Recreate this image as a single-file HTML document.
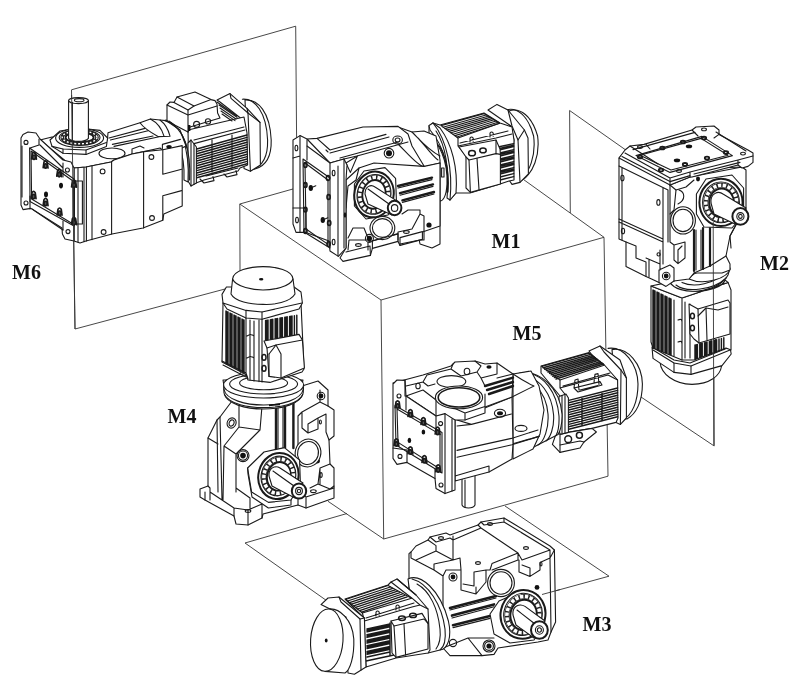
<!DOCTYPE html>
<html><head><meta charset="utf-8"><title>Mounting positions M1-M6</title>
<style>
html,body{margin:0;padding:0;background:#fff;}
svg{display:block}
.l{fill:none;stroke:#333;stroke-width:0.9}
.w{fill:#fff;stroke:#1a1a1a;stroke-width:1.1;stroke-linejoin:round}
.n{fill:none;stroke:#1a1a1a;stroke-width:1.1;stroke-linejoin:round;stroke-linecap:round}
.t{fill:none;stroke:#222;stroke-width:0.6}
.k{fill:#111;stroke:none}
.f{fill:#fff;stroke:none}
svg *{vector-effect:non-scaling-stroke}
.g{fill:#fff;stroke:#222;stroke-width:0.9}
.b{fill:none;stroke:#111;stroke-width:1.6}
text{font-family:"Liberation Serif","DejaVu Serif",serif;font-weight:bold;font-size:20px;fill:#111}
</style></head><body>
<svg width="800" height="686" viewBox="0 0 800 686">
<rect width="800" height="686" fill="#fff"/>
<g style="filter:blur(0.45px)">
<!-- base -->
<g class="l">
<!-- M6 plane -->
<polyline points="75,329 71.5,89.8 295.7,26.2 297,190"/>
<line x1="75" y1="329" x2="240" y2="285"/>
<!-- cube -->
<polyline points="240.5,420 239.8,204 381,300 604,237.3 608,476.2 383.7,539 381,300"/>
<line x1="239.8" y1="204" x2="300" y2="187"/>
<line x1="604" y1="237.3" x2="520" y2="177"/>
<line x1="383.7" y1="539" x2="328" y2="501.3"/>
<!-- M2 plane -->
<polyline points="570.3,213 569.6,110.5 640,160"/>
<polyline points="641,397 714.2,446 713.5,250"/>
<!-- M3 plane -->
<polyline points="347,513.5 245,543 330,603"/>
<polyline points="505,506 609,576.2 556,590.7"/>
</g>

<!-- m6 -->
<!-- M6 -->
<!-- view C: region [100,80,260,217] x5 : adapter + motor -->
<g transform="translate(100,80) scale(0.2)">
<!-- end cap -->
<path class="w" d="M725,100 C790,95 850,160 856,300 C858,380 830,430 775,445 L740,440 Z"/>
<path class="n" d="M712,96 C775,92 832,160 838,300 C840,380 812,432 760,448"/>
<!-- fan cover -->
<polygon class="w" points="585,100 650,68 735,142 800,212 802,425 752,456 720,442 715,200 600,110"/>
<polyline class="n" points="650,68 655,92 740,165 735,142"/>
<line class="n" x1="740" y1="165" x2="752" y2="456"/>
<line class="n" x1="800" y1="212" x2="740" y2="165"/>
<!-- motor body -->
<polygon class="w" points="440,250 720,185 735,265 738,425 700,440 690,455 520,500 480,515 445,500"/>
<!-- fins -->
<g class="n">
<path style="stroke-width:1.45" d="M484,345 L735,275 M484,357 L735,287 M484,369 L735,299 M484,381 L735,311 M484,393 L735,323 M484,405 L735,335 M484,417 L735,347 M484,429 L735,359 M484,441 L735,371 M484,453 L735,383 M484,465 L735,395 M484,477 L735,407 M484,489 L735,419"/>
<path d="M470,300 L720,235 M470,318 L725,250 M560,300 l0,160 M660,275 l0,160"/>
</g>
<!-- feet -->
<path class="n" d="M500,495 l20,20 l50,-12 l-5,-20 M620,470 l15,15 l50,-12 l-5,-20 M530,480 l160,-40"/>
<!-- front flange of motor -->
<polygon class="w" points="440,315 455,300 482,335 482,515 455,530 440,505"/>
<line class="n" x1="455" y1="300" x2="455" y2="530"/>
<line class="n" x1="470" y1="320" x2="470" y2="522"/>
<!-- terminal box -->
<polygon class="w" points="335,125 350,110 370,112 385,85 475,60 555,98 575,103 585,120 588,165 600,190 450,235 440,260 335,205"/>
<polyline class="n" points="370,112 440,150 470,130 555,98"/>
<polyline class="n" points="385,85 470,130"/>
<polyline class="n" points="440,150 440,260"/>
<polyline class="n" points="335,125 440,175 585,130"/>
<circle class="n" cx="483" cy="222" r="15"/>
<circle class="n" cx="540" cy="207" r="13"/>
<path class="k" d="M440,225 l12,0 l0,30 l-12,0 z"/>
<g class="n"><path d="M585,110 l100,70 M595,125 l90,62 M600,140 l80,55 M605,155 l70,48 M610,170 l50,35"/></g>
<!-- adapter flange arcs -->
<path class="w" d="M330,200 C400,230 450,330 440,510 L420,500 C425,360 390,280 300,230 Z"/>
<path class="n" d="M345,205 C420,250 455,350 448,500"/>
</g>
<!-- view B: region [20,80,180,217] x5 : top of gearbox -->
<g transform="translate(20,80) scale(0.2)">
<!-- top face + neck -->
<polygon class="w" points="100,300 160,285 437,300 440,264 600,214 652,195 700,200 730,203 800,250 830,330 800,345 712,350 700,340 620,358 560,370 470,400 455,410 330,435 270,440"/>
<g class="n">
<path d="M445,290 L625,242 M452,300 L640,254 M462,322 L665,280 M470,332 L690,285"/>
<path d="M600,214 C615,235 640,255 690,283 L750,281 C740,240 720,215 700,200 M652,195 C690,215 710,245 720,281 M725,203 C770,215 815,260 835,340"/>
<path d="M560,370 l0,-25 l40,-15 l20,10 M712,342 l0,-20 l90,-25"/>
</g>
<ellipse class="k" cx="750" cy="350" rx="16" ry="10"/>
<ellipse class="w" cx="460" cy="367" rx="65" ry="27"/>
<!-- boss -->
<polygon class="w" points="150,300 200,255 290,240 400,252 438,290 432,332 330,372 215,366 160,332"/>
<polyline class="n" points="160,332 215,345 330,350 432,312"/>
<line class="n" x1="215" y1="345" x2="215" y2="366"/><line class="n" x1="330" y1="350" x2="330" y2="372"/>
<ellipse class="w" cx="298" cy="290" rx="120" ry="47"/>
<ellipse class="n" cx="298" cy="288" rx="102" ry="39"/>
<ellipse class="n" cx="298" cy="287" rx="70" ry="25" style="stroke-width:1.8"/>
<ellipse cx="298" cy="287" rx="87" ry="32" style="fill:none;stroke:#222;stroke-width:3.6"/><ellipse cx="298" cy="287" rx="87" ry="32" style="fill:none;stroke:#fff;stroke-width:1.4;stroke-dasharray:2 1.8"/>
<!-- shaft -->
<path class="w" d="M243,103 L243,292 C260,312 325,312 342,292 L342,103 Z"/>
<ellipse class="w" cx="292.5" cy="103" rx="49.5" ry="15"/>
<ellipse class="n" cx="296" cy="101" rx="24" ry="8"/>
<line class="n" x1="262" y1="112" x2="262" y2="300"/>
</g>
<!-- view A: region [20,130,180,267] x5 -->
<g transform="translate(20,130) scale(0.2)">
<!-- side body -->
<polygon class="w" points="270,190 330,185 455,160 470,150 560,120 620,108 714,99 811,78 811,380 719,420 714,451 615,490 460,520 330,555 300,565 270,555"/>
<path class="n" d="M714,99 L714,221 L808,196 M714,451 L714,329 L808,303"/>
<ellipse class="k" cx="745" cy="84" rx="14" ry="9"/>
<line class="n" x1="290" y1="190" x2="290" y2="560"/>
<line class="n" x1="320" y1="188" x2="320" y2="558"/>
<line class="n" x1="332" y1="186" x2="332" y2="555"/>
<line class="n" x1="360" y1="180" x2="360" y2="548"/>
<line class="n" x1="458" y1="160" x2="458" y2="520"/>
<line class="n" x1="618" y1="110" x2="618" y2="490"/>
<circle class="n" cx="413" cy="207" r="12"/>
<circle class="n" cx="418" cy="510" r="12"/>
<circle class="n" cx="657" cy="135" r="12"/>
<circle class="n" cx="660" cy="440" r="12"/>
<rect class="n" x="272" y="255" width="40" height="215"/>
<!-- end face -->
<polygon class="w" points="5,40 15,22 40,10 80,15 100,45 215,150 255,160 270,190 270,555 225,545 212,520 210,490 55,392 15,398 5,375"/>
<polygon class="n" points="55,105 265,255 265,470 58,345"/>
<polygon class="n" points="48,90 270,245 270,480 50,358"/>
<line class="n" x1="10" y1="80" x2="10" y2="335"/>
<path class="n" d="M100,75 L215,190 M95,45 L95,75 L50,90 M215,165 L215,235 M50,330 L50,395 M215,455 L215,500"/>
<line class="n" x1="60" y1="395" x2="215" y2="500"/>
<circle class="n" cx="30" cy="62" r="10"/>
<circle class="n" cx="30" cy="365" r="10"/>
<circle class="n" cx="237" cy="200" r="10"/>
<circle class="n" cx="240" cy="508" r="10"/>
<ellipse class="k" cx="205" cy="278" rx="10" ry="14"/>
<ellipse class="k" cx="130" cy="322" rx="10" ry="14"/>
<g class="n" style="stroke-width:1.7"><path d="M58,144 l4,-28 q8,-12 16,0 l4,30"/><ellipse cx="70" cy="136" rx="8" ry="11" style="fill:#555"/><path d="M116,188 l4,-28 q8,-12 16,0 l4,30"/><ellipse cx="128" cy="180" rx="8" ry="11" style="fill:#555"/><path d="M184,231 l4,-28 q8,-12 16,0 l4,30"/><ellipse cx="196" cy="223" rx="8" ry="11" style="fill:#555"/><path d="M258,284 l4,-28 q8,-12 16,0 l4,30"/><ellipse cx="270" cy="276" rx="8" ry="11" style="fill:#555"/></g>
<g class="n" style="stroke-width:1.7"><path d="M56,341 l4,-28 q8,-12 16,0 l4,30"/><ellipse cx="68" cy="333" rx="8" ry="11" style="fill:#555"/><path d="M116,376 l4,-28 q8,-12 16,0 l4,30"/><ellipse cx="128" cy="368" rx="8" ry="11" style="fill:#555"/><path d="M186,424 l4,-28 q8,-12 16,0 l4,30"/><ellipse cx="198" cy="416" rx="8" ry="11" style="fill:#555"/><path d="M258,471 l4,-28 q8,-12 16,0 l4,30"/><ellipse cx="270" cy="463" rx="8" ry="11" style="fill:#555"/></g>
</g>
<line class="l" x1="71.6" y1="95" x2="75" y2="329"/>

<!-- m1 -->
<!-- M1 -->
<!-- view M1b: region [400,80,560,217] x5 : motor -->
<g transform="translate(400,80) scale(0.2)">
<!-- end cap -->
<path class="w" d="M545,155 C600,135 660,180 688,280 C700,370 670,470 600,508 L560,500 Z"/>
<path class="n" d="M530,150 C585,132 642,180 668,280 C680,370 652,470 585,512"/>
<!-- fan cover -->
<polygon class="w" points="440,150 485,122 540,150 622,250 640,290 642,470 600,512 560,522 545,500 570,300 555,230"/>
<polyline class="n" points="540,150 560,230 590,300 600,512"/>
<polyline class="n" points="622,250 590,300"/>
<!-- body -->
<polygon class="w" points="200,225 420,165 500,215 560,235 570,300 570,500 545,505 500,520 350,565 280,565 250,600 145,300 145,228 165,215"/>
<!-- top fins -->
<polygon class="n" points="205,228 420,168 498,216 290,290"/>
<g class="n"><path style="stroke-width:1.15" d="M215,236 L430,175 M225,243 L440,181 M235,250 L450,187 M245,257 L460,193 M255,264 L470,199 M265,271 L480,205 M275,278 L490,211 M285,285 L498,216"/>
<path d="M290,290 L290,330 L480,290 L560,270 M290,330 L330,380 M300,315 L540,255 M350,310 l0,-20 q8,-10 16,0 l0,16 M450,285 l0,-20 q8,-10 16,0 l0,16"/>
</g>
<!-- side fins -->
<g class="n"><path style="stroke-width:1.45" d="M490,335 L568,318 M495,350 L568,333 M500,365 L568,348 M500,380 L568,363 M500,395 L568,378 M500,410 L568,393 M500,425 L568,408 M500,440 L568,423 M500,455 L568,438 M500,470 L568,453 M500,485 L568,468 M500,500 L568,483 M498,342 L568,326 M500,372 L568,356 M500,402 L568,386 M500,432 L568,416 M500,462 L568,446"/></g>
<!-- terminal box -->
<polygon class="w" points="295,335 480,300 500,345 502,372 502,520 352,562 330,540 330,385"/>
<polyline class="n" points="330,385 345,400 480,368 502,372"/>
<polyline class="n" points="345,400 352,562"/>
<polyline class="n" points="385,392 395,548"/>
<polyline class="n" points="480,368 480,300"/>
<ellipse class="n" cx="360" cy="366" rx="17" ry="13" style="stroke-width:1.5"/>
<ellipse class="n" cx="415" cy="352" rx="16" ry="12" style="stroke-width:1.5"/>
<!-- motor flange -->
<path class="w" d="M145,228 L165,215 L200,240 C260,320 290,440 280,565 L250,600 L235,590 C250,450 220,330 150,250 Z"/>
<path class="n" d="M165,215 C235,300 265,450 250,600 M180,255 C230,330 245,450 235,560"/>
<!-- round adapter flange -->
<path class="w" d="M150,300 C190,300 240,400 235,520 C232,580 215,610 195,605 C170,600 150,560 150,500 Z"/>
<path class="n" d="M165,300 C215,330 250,430 240,560"/>
<rect class="n" x="208" y="440" width="12" height="45"/>
</g>
<!-- view M1a: region [280,120,440,257] x5 : gearbox -->
<g transform="translate(280,120) scale(0.2)">
<!-- neck to motor -->
<polygon class="w" points="590,35 660,60 720,55 780,80 800,200 800,620 760,640 700,620 600,120"/>
<!-- top face -->
<polygon class="w" points="135,95 185,92 415,35 590,32 640,70 660,130 720,230 330,300 250,215"/>
<g class="n"><path d="M185,92 L250,150 L530,72 M230,150 L240,160 M250,165 L545,85 M300,190 L590,110 M250,215 L320,195 L385,180 L640,110"/>
<path d="M590,120 C640,170 690,230 720,235 L800,215 M690,90 C720,120 760,180 790,200 M660,60 C700,100 740,150 800,180"/></g>
<ellipse class="n" cx="588" cy="100" rx="24" ry="20"/><ellipse class="n" cx="588" cy="100" rx="12" ry="10"/>
<!-- front face -->
<polygon class="w" points="330,300 395,240 470,215 720,232 800,215 800,530 712,560 712,597 600,627 590,607 462,642 452,677 315,707 300,690 330,640"/>
<path class="n" d="M330,660 L450,630 L452,677 M462,642 L462,605 L590,568 L590,607 M600,627 L600,588 L712,558"/>
<polyline class="n" points="395,240 380,300 340,330 330,440"/>
<!-- thick ribs -->
<g class="n" style="stroke-width:2.4"><path d="M590,330 L760,288 M600,366 L765,322 M612,402 L770,360"/></g>
<g class="n"><path d="M590,340 L760,298 M600,376 L765,332 M612,412 L770,370"/></g>
<!-- lower plug -->
<ellipse class="w" cx="512" cy="540" rx="62" ry="58"/>
<ellipse class="n" cx="512" cy="540" rx="50" ry="47"/>
<!-- feet -->
<g class="n"><path d="M340,590 L365,540 L420,540 L440,590 M340,650 L345,600 L440,600 M590,600 L590,560 L660,545 L700,470 L700,450 L640,450 L610,470 M700,470 L720,480 L720,600 M600,620 L700,600 L720,600 M440,650 L440,610 L590,570"/>
<ellipse cx="392" cy="625" rx="14" ry="7"/><ellipse cx="632" cy="560" rx="14" ry="7"/></g>
<circle class="k" cx="545" cy="166" r="15"/><circle class="n" cx="545" cy="166" r="24"/>
<circle class="k" cx="745" cy="525" r="13"/>
<circle class="k" cx="447" cy="592" r="13"/><circle class="n" cx="447" cy="592" r="20"/>
<!-- hex boss & bearing -->
<polygon class="w" points="372,320 420,255 525,238 578,292 582,400 540,475 430,495 372,430"/>
<ellipse class="w" cx="470" cy="372" rx="98" ry="115" transform="rotate(12 470 372)" style="stroke-width:2"/>
<ellipse class="n" cx="470" cy="372" rx="84" ry="100" transform="rotate(12 470 372)"/>
<ellipse class="n" cx="470" cy="372" rx="58" ry="72" transform="rotate(12 470 372)" style="stroke-width:2"/>
<ellipse cx="470" cy="372" rx="71" ry="86" transform="rotate(12 470 372)" style="fill:none;stroke:#222;stroke-width:4.8"/><ellipse cx="470" cy="372" rx="71" ry="86" transform="rotate(12 470 372)" style="fill:none;stroke:#fff;stroke-width:3.5;stroke-dasharray:3.4 1.5"/>
<!-- shaft -->
<path class="w" d="M425,370 C425,330 455,320 475,335 L590,408 L560,475 L440,420 Z"/>
<path class="n" d="M440,345 L545,420"/>
<ellipse class="w" cx="573" cy="440" rx="34" ry="36" style="stroke-width:2"/>
<ellipse class="n" cx="573" cy="440" rx="16" ry="17"/>
<!-- triangle rib -->
<polygon class="w" points="330,215 387,180 352,262"/>
<!-- end face -->
<polygon class="w" points="65,100 100,78 135,95 135,130 250,215 320,195 335,225 330,300 330,640 292,682 250,655 245,605 130,562 80,562 65,520"/>
<polygon class="n" points="115,195 250,290 250,640 120,560"/>
<polygon class="n" points="125,215 240,300 240,622 130,545"/>
<g class="n"><path d="M100,78 L100,560 M135,130 L135,200 M250,215 L250,290 M290,230 L290,680 M320,195 L320,640 M65,440 L130,440 L130,560 M100,180 L65,190"/>
<ellipse cx="82" cy="140" rx="7" ry="14"/><ellipse cx="85" cy="500" rx="7" ry="14"/><ellipse cx="268" cy="265" rx="7" ry="14"/><ellipse cx="268" cy="610" rx="7" ry="14"/></g>
<g class="n" style="stroke-width:1.6"><ellipse cx="127" cy="225" rx="8" ry="12"/><ellipse cx="127" cy="325" rx="8" ry="12"/><ellipse cx="127" cy="448" rx="8" ry="12"/><ellipse cx="127" cy="555" rx="8" ry="12"/><ellipse cx="240" cy="290" rx="8" ry="12"/><ellipse cx="243" cy="385" rx="8" ry="12"/><ellipse cx="246" cy="515" rx="8" ry="12"/><ellipse cx="243" cy="620" rx="8" ry="12"/></g>
<ellipse class="k" cx="154" cy="340" rx="11" ry="15"/><ellipse class="k" cx="214" cy="500" rx="11" ry="15"/><path class="n" d="M165,335 l14,-6 M225,495 l14,-6"/><ellipse class="k" cx="325" cy="475" rx="6" ry="14"/>
</g>

<!-- m2 -->
<!-- M2 -->
<!-- view M2c: region [610,290,770,427] x5 : motor lower -->
<g transform="translate(610,290) scale(0.2)">
<path class="w" d="M250,360 C255,420 320,470 410,472 C500,470 550,430 558,380 Z"/>
<polygon class="w" points="210,285 320,350 400,365 600,285 606,320 560,378 405,422 320,412 215,342"/>
<polyline class="n" points="215,300 320,365 405,380 600,300"/>
<line class="n" x1="320" y1="365" x2="320" y2="412"/><line class="n" x1="405" y1="380" x2="405" y2="422"/>
</g>
<!-- view M2b: region [610,230,770,367] x5 : motor body + gearbox lower -->
<g transform="translate(610,230) scale(0.2)">
<!-- motor body -->
<polygon class="w" points="205,280 360,340 590,262 605,300 605,600 580,590 420,650 360,650 215,590 205,560"/>
<!-- left fins -->
<g class="n"><path style="stroke-width:1.45" d="M215,300 L215,588 M225,305 L225,592 M235,310 L235,596 M245,315 L245,600 M255,320 L255,604 M265,325 L265,608 M275,330 L275,612 M285,335 L285,616 M295,340 L295,620 M305,345 L305,624 M220,302 L220,590 M240,312 L240,598 M260,322 L260,606 M280,332 L280,614 M300,342 L300,622"/>
<path d="M320,350 L320,630 M360,345 L360,650 M375,360 L375,640 M400,370 L400,640 M340,450 q20,-10 20,10 M340,560 q20,-10 20,10"/>
<!-- bottom fins -->
<path style="stroke-width:1.45" d="M425,575 L425,645 M437,572 L437,641 M449,569 L449,637 M461,566 L461,633 M473,563 L473,629 M485,560 L485,625 M497,557 L497,621 M509,554 L509,617 M521,551 L521,613 M533,548 L533,609 M545,545 L545,605 M557,542 L557,601 M569,539 L569,597 M431,573 L431,643 M455,567 L455,635 M479,561 L479,627 M503,555 L503,619 M527,549 L527,611"/>
</g>
<!-- terminal box -->
<polygon class="w" points="395,370 440,395 590,350 600,365 600,520 445,565 420,545 400,520"/>
<polyline class="n" points="440,395 445,565"/>
<polyline class="n" points="440,430 480,390 540,400 590,385"/>
<polyline class="n" points="480,390 485,550"/>
<ellipse class="n" cx="412" cy="430" rx="10" ry="14" style="stroke-width:1.5"/>
<ellipse class="n" cx="412" cy="490" rx="10" ry="14" style="stroke-width:1.5"/>
<!-- motor top flange / adapter rings -->
<path class="w" d="M205,280 L360,340 L590,262 L575,250 C560,300 420,330 330,280 L290,262 Z"/>
<path class="w" d="M300,262 C340,330 540,320 590,225 L600,190 L380,230 Z"/>
<path class="n" d="M330,275 C380,315 520,300 580,240 M360,262 C420,290 520,270 590,205"/>
<path class="w" d="M395,245 C420,200 560,170 600,195 C590,240 470,280 395,245 Z"/>
</g>
<!-- plane line through -->
<!-- view M2a: region [610,110,770,247] x5 : gearbox upper -->
<g transform="translate(610,110) scale(0.2)">
<!-- silhouette -->
<polygon class="w" points="45,240 75,205 300,300 660,285 680,300 680,520 630,575 600,630 590,680 580,730 600,770 600,800 560,815 420,815 395,845 320,855 280,882 245,862 180,832 80,782 80,660 45,645"/>
<!-- left face details -->
<g class="n"><path d="M45,280 L290,400 M60,290 L60,650 M45,545 L265,645 M45,560 L265,660 M265,390 L265,770 M290,400 L290,660 M300,375 L300,660 L320,675 L375,660 L375,740 L340,768 L320,750 L320,675 M340,768 L340,700 L360,680"/>
<path d="M80,660 L130,680 L130,740 L180,760 L180,832 M180,740 L250,770 L250,700 M250,770 L250,800 M195,750 L195,835 M245,800 L300,775 L320,790 L320,855 M245,800 L245,862 M580,730 L500,780 L420,815"/>
<ellipse cx="62" cy="340" rx="8" ry="14"/><ellipse cx="242" cy="462" rx="8" ry="14"/><ellipse cx="65" cy="605" rx="8" ry="14"/><circle cx="243" cy="722" r="8"/></g>
<circle class="k" cx="281" cy="830" r="12"/><circle class="n" cx="281" cy="830" r="19"/>
<!-- front face -->
<polyline class="n" points="300,375 400,335 660,285"/>
<polyline class="n" points="300,375 330,400 380,385 420,350"/>
<polyline class="n" points="330,400 320,500 300,520"/>
<path class="n" d="M345,400 C375,410 380,450 340,470"/>
<g class="n" style="stroke-width:2.2"><path d="M420,600 L420,805 M465,590 L465,795 M500,590 L500,780"/></g>
<g class="n"><path d="M430,600 L430,800 M455,600 L455,795"/></g>
<!-- plug -->
<ellipse class="w" cx="365" cy="552" rx="62" ry="68"/>
<ellipse class="n" cx="365" cy="552" rx="50" ry="56"/>
<!-- thick verticals -->
<!-- hex boss -->
<polygon class="w" points="432,420 480,345 610,325 668,390 668,520 610,590 470,585 432,520"/>
<ellipse class="w" cx="555" cy="462" rx="108" ry="118" style="stroke-width:2"/>
<ellipse class="n" cx="555" cy="462" rx="92" ry="102"/>
<ellipse class="n" cx="558" cy="464" rx="62" ry="72" style="stroke-width:2"/>
<ellipse cx="556" cy="463" rx="77" ry="87" style="fill:none;stroke:#222;stroke-width:4.8"/><ellipse cx="556" cy="463" rx="77" ry="87" style="fill:none;stroke:#fff;stroke-width:3.5;stroke-dasharray:3.4 1.5"/>
<!-- shaft -->
<path class="w" d="M505,465 C500,420 540,400 565,420 L680,490 L625,570 L520,520 Z"/>
<ellipse class="w" cx="652" cy="532" rx="40" ry="42" style="stroke-width:2"/>
<ellipse class="n" cx="652" cy="532" rx="18" ry="19"/><ellipse class="n" cx="652" cy="532" rx="9" ry="10"/>
<path class="n" d="M630,572 L600,630 L605,690"/>
<!-- top flange -->
<polygon class="w" points="45,240 75,200 100,180 170,172 410,100 430,85 520,80 545,100 545,122 690,200 715,215 715,262 690,282 660,290 640,275 410,335 400,335 300,375"/>
<polygon class="n" points="130,228 460,132 612,228 300,312"/>
<polygon class="n" points="150,226 455,142 590,226 305,300"/>
<g class="n"><path d="M75,215 L300,340 L400,310 L640,250 L715,230 M180,172 L200,195 M410,100 L440,130 M545,122 L520,140 M640,275 L640,250 M300,340 L300,375 M400,310 L400,335 M100,180 L240,270"/>
<ellipse cx="150" cy="185" rx="12" ry="7"/><ellipse cx="470" cy="97" rx="12" ry="7"/><ellipse cx="665" cy="218" rx="12" ry="7"/><ellipse cx="345" cy="305" rx="12" ry="7"/><ellipse cx="262" cy="190" rx="11" ry="7" style="stroke-width:1.8"/><ellipse cx="365" cy="160" rx="11" ry="7" style="stroke-width:1.8"/><ellipse cx="470" cy="140" rx="11" ry="7" style="stroke-width:1.8"/><ellipse cx="580" cy="213" rx="11" ry="7" style="stroke-width:1.8"/><ellipse cx="485" cy="240" rx="11" ry="7" style="stroke-width:1.8"/><ellipse cx="375" cy="272" rx="11" ry="7" style="stroke-width:1.8"/><ellipse cx="255" cy="300" rx="11" ry="7" style="stroke-width:1.8"/><ellipse cx="150" cy="235" rx="11" ry="7" style="stroke-width:1.8"/></g>
<path class="n" d="M60,232 L300,358 L400,328 M420,320 L650,262 M115,198 L425,112 M530,110 L680,205"/>
<ellipse class="k" cx="395" cy="182" rx="16" ry="9"/><ellipse class="k" cx="335" cy="252" rx="16" ry="9"/><ellipse class="k" cx="440" cy="345" rx="10" ry="12"/>
</g>
<line class="l" x1="713.2" y1="222" x2="713.8" y2="445"/>

<!-- m4 -->
<!-- M4 -->
<!-- view M4b: region [190,380,350,517] x5 : gearbox -->
<g transform="translate(190,380) scale(0.2)">
<!-- silhouette -->
<polygon class="w" points="170,20 180,80 210,105 150,185 135,200 90,290 90,530 50,545 50,585 75,600 220,680 230,720 290,725 360,690 365,670 540,625 580,640 720,590 720,440 700,420 695,300 720,280 720,150 690,130 690,50 640,5 560,30 520,20"/>
<g class="n">
<path d="M150,185 L160,600 M135,200 L140,560 M90,290 L140,320 M215,105 L245,125 L245,235 L170,330 L165,600 M245,235 L350,250 L360,130 M350,250 L230,370 L230,560 M170,330 L230,370 M230,540 L300,590 L300,640 M90,530 L100,540 L100,600 M75,560 L75,600 M100,560 L220,640 L220,680 M220,640 L290,650 L360,620 L360,690 M290,650 L290,725 M360,130 L360,100 M245,125 L360,130"/>
<path d="M540,625 L540,580 M580,640 L580,585 L720,540 M580,585 L560,560 M690,130 L650,110 L560,160 L560,240 L590,265 L640,245 L640,190 L680,170 L680,260 L695,300 M590,265 L590,220 L640,190 M650,110 L650,50 M560,160 L540,180 L540,330 M700,420 L650,440 L640,520 L600,540 M640,520 L700,545 L720,530 M650,440 L650,520"/>
<ellipse cx="208" cy="215" rx="22" ry="26" transform="rotate(25 208 215)"/><ellipse cx="208" cy="215" rx="12" ry="16" transform="rotate(25 208 215)"/>
<ellipse cx="290" cy="655" rx="14" ry="7"/><ellipse cx="617" cy="556" rx="14" ry="7"/><ellipse cx="655" cy="475" rx="6" ry="12"/><ellipse cx="652" cy="210" rx="5" ry="10"/>
</g>
<g class="n" style="stroke-width:2.4"><path d="M430,110 L430,350 M475,110 L475,340 M517,110 L517,340"/></g>
<g class="n"><path d="M440,110 L440,345 M465,110 L465,340"/></g>
<circle class="k" cx="265" cy="378" r="14"/><circle class="n" cx="265" cy="378" r="23"/><circle class="n" cx="265" cy="378" r="30"/>
<circle class="k" cx="655" cy="80" r="12"/><circle class="n" cx="655" cy="80" r="19"/>
<circle class="k" cx="638" cy="405" r="12"/>
<!-- plug -->
<ellipse class="w" cx="590" cy="365" rx="64" ry="70" transform="rotate(15 590 365)"/>
<ellipse class="n" cx="590" cy="365" rx="52" ry="58" transform="rotate(15 590 365)"/>
<!-- hex boss -->
<polygon class="w" points="288,440 370,360 472,338 548,400 552,520 505,600 392,612 308,560"/>
<polyline class="n" points="288,440 290,470 310,585 392,640 505,625 505,600"/>
<ellipse class="w" cx="442" cy="480" rx="100" ry="116" transform="rotate(14 442 480)" style="stroke-width:2"/>
<ellipse class="n" cx="442" cy="480" rx="86" ry="100" transform="rotate(14 442 480)"/>
<ellipse class="n" cx="445" cy="482" rx="60" ry="72" transform="rotate(14 445 482)" style="stroke-width:2"/>
<ellipse cx="443" cy="481" rx="73" ry="86" transform="rotate(14 443 481)" style="fill:none;stroke:#222;stroke-width:4.8"/><ellipse cx="443" cy="481" rx="73" ry="86" transform="rotate(14 443 481)" style="fill:none;stroke:#fff;stroke-width:3.5;stroke-dasharray:3.4 1.5"/>
<!-- shaft -->
<path class="w" d="M395,480 C392,440 425,425 450,440 L565,515 L525,590 L410,530 Z"/>
<path class="n" d="M415,455 L520,530"/>
<ellipse class="w" cx="545" cy="555" rx="36" ry="38" style="stroke-width:2"/>
<ellipse class="n" cx="545" cy="555" rx="17" ry="18"/><ellipse class="n" cx="545" cy="555" rx="8" ry="9"/>
<!-- adapter rings -->
<path class="w" d="M165,0 C165,60 250,105 370,105 C480,105 560,60 565,0 Z"/>
<path class="n" d="M185,0 C190,50 260,88 370,88 C470,88 540,50 545,0 M215,0 C225,40 280,65 370,65 C450,65 510,40 520,0"/>
<path class="k" d="M400,95 l50,-6 l0,8 l-50,6 z"/>
</g>
<!-- view M4a: region [190,260,350,397] x5 : motor -->
<g transform="translate(190,260) scale(0.2)">
<!-- adapter ring top -->
<path class="w" d="M168,625 L170,665 C180,720 280,745 368,745 C460,745 555,720 566,665 L568,625 Z"/>
<path class="n" d="M169,645 C180,700 280,725 368,725 C460,725 555,700 567,645 M172,672 C200,722 290,738 368,738 C450,738 540,722 564,672"/>
<ellipse class="w" cx="368" cy="625" rx="200" ry="65"/>
<ellipse class="n" cx="368" cy="620" rx="170" ry="50"/>
<ellipse class="n" cx="368" cy="615" rx="120" ry="34"/>
<path class="k" d="M395,722 l55,-5 l0,9 l-55,5 z"/>
<!-- motor body -->
<polygon class="w" points="165,215 555,215 570,545 560,560 400,612 290,600 280,572 160,510"/>
<!-- left fins -->
<g class="n"><path style="stroke-width:1.45" d="M180,255 L180,518 M190,260 L190,523 M200,265 L200,528 M210,270 L210,533 M220,275 L220,538 M230,280 L230,543 M240,285 L240,548 M250,290 L250,553 M260,295 L260,558 M270,300 L270,563 M185,258 L185,520 M205,268 L205,530 M225,278 L225,540 M245,288 L245,550 M265,298 L265,560"/>
<path d="M160,505 L280,565 L290,595 M165,525 L280,585 M280,290 L280,572 M300,300 L300,600 M320,305 L320,605 M345,300 L345,608 M360,295 L360,610 M285,380 q20,-12 35,0 M285,490 q20,-12 35,0"/>
<!-- right top fins -->
<path style="stroke-width:1.45" d="M378,302 L378,402 M390,300 L390,400 M402,298 L402,398 M414,296 L414,396 M426,294 L426,394 M438,292 L438,392 M450,290 L450,390 M462,288 L462,388 M474,286 L474,386 M486,284 L486,384 M498,282 L498,382 M510,280 L510,380 M522,278 L522,378 M534,276 L534,376 M384,301 L384,401 M408,297 L408,397 M432,293 L432,393 M456,289 L456,389 M480,285 L480,385 M504,281 L504,381"/>
</g>
<!-- terminal box -->
<polygon class="w" points="370,405 545,372 562,400 572,540 455,590 395,582 385,440"/>
<polyline class="n" points="385,440 430,425 562,400"/>
<polyline class="n" points="395,470 430,425 455,470 455,590"/>
<polyline class="n" points="395,470 395,582"/>
<ellipse class="n" cx="370" cy="487" rx="10" ry="14" style="stroke-width:1.5"/>
<ellipse class="n" cx="370" cy="542" rx="10" ry="14" style="stroke-width:1.5"/>
<!-- fan cover -->
<polygon class="w" points="160,172 182,135 520,135 555,160 562,215 545,245 360,296 280,290 185,245 165,215"/>
<polyline class="n" points="165,215 280,252 360,260 560,215"/>
<line class="n" x1="280" y1="252" x2="280" y2="290"/><line class="n" x1="360" y1="260" x2="360" y2="296"/>
<!-- dome -->
<path class="w" d="M205,170 L213,95 C216,52 300,33 365,33 C430,33 512,52 515,95 L525,170 C500,212 420,225 365,222 C300,222 225,208 205,170 Z"/>
<path class="n" d="M213,95 C228,135 320,150 365,150 C412,150 502,135 515,95"/>
<ellipse class="k" cx="356" cy="96" rx="11" ry="6"/>
</g>

<!-- m5 -->
<!-- M5 -->
<!-- view M5b: region [480,330,640,467] x5 : motor -->
<g transform="translate(480,330) scale(0.2)">
<!-- end cap -->
<path class="w" d="M660,98 C740,85 810,170 812,270 C812,360 780,420 735,445 L690,440 Z"/>
<path class="n" d="M640,92 C720,80 788,170 790,270 C790,360 760,425 715,450"/>
<!-- fan cover -->
<polygon class="w" points="545,105 600,80 700,150 732,240 732,440 702,472 680,462 685,250 560,125"/>
<polyline class="n" points="600,80 620,110 705,200 702,472"/>
<polyline class="n" points="732,240 705,200"/>
<!-- body -->
<polygon class="w" points="305,180 545,113 622,175 688,250 690,440 680,462 560,492 440,512 400,330 305,215"/>
<polygon class="n" points="308,182 545,116 620,176 400,250"/>
<g class="n"><path style="stroke-width:1.45" d="M316,189 L553,122 M324,196 L561,128 M332,203 L569,134 M340,210 L577,140 M348,217 L585,146 M356,224 L593,152 M364,231 L601,158 M372,238 L609,164 M380,245 L617,170"/>
<path d="M400,250 L400,290 L440,340 M400,290 L640,225 L688,250 M415,280 L650,215 M470,290 L475,250 L490,245 L495,300 M570,262 L575,222 L590,218 L595,272 M470,290 L600,258 L610,275 L490,310 Z M500,300 L590,278"/>
<!-- front fins -->
<path style="stroke-width:1.45" d="M444,352 L688,290 M444,364 L688,302 M444,376 L688,314 M444,388 L688,326 M444,400 L688,338 M444,412 L688,350 M444,424 L688,362 M444,436 L688,374 M444,448 L688,386 M444,460 L688,398 M444,472 L688,410 M444,484 L688,422 M444,496 L688,434 M510,340 L510,480 M610,315 L610,455"/>
</g>
<!-- terminal box below -->
<polygon class="w" points="400,520 440,512 560,492 582,510 520,560 500,590 400,612 362,572 380,520"/>
<polyline class="n" points="400,520 400,612"/><polyline class="n" points="400,575 500,555 520,560"/>
<circle class="n" cx="441" cy="546" r="17" style="stroke-width:1.5"/><circle class="n" cx="497" cy="526" r="15" style="stroke-width:1.5"/>
<!-- motor front flange -->
<polygon class="w" points="395,332 430,320 442,340 442,512 402,522 395,505"/>
<line class="n" x1="410" y1="328" x2="410" y2="520"/><line class="n" x1="425" y1="322" x2="425" y2="516"/>
<!-- round flange -->
<path class="w" d="M200,215 C300,200 400,290 410,420 C412,470 400,510 390,522 L250,595 C290,520 300,400 270,300 C250,260 200,240 165,235 Z"/>
<path class="n" d="M230,212 C320,225 385,310 395,430 C397,480 390,510 380,528 M165,235 C250,230 330,300 340,420 C345,490 320,560 290,575 M215,225 C300,240 360,320 368,425 C372,490 350,540 330,555"/>
</g>
<!-- view M5a: region [385,360,545,497] x5 : gearbox -->
<g transform="translate(385,360) scale(0.2)">
<!-- shaft -->
<path class="w" d="M385,560 L385,725 C395,745 440,745 450,725 L450,560 Z"/>
<line class="n" x1="400" y1="600" x2="400" y2="735"/>
<!-- neck -->
<polygon class="w" points="640,70 730,55 770,130 795,250 775,370 740,445 640,495"/>
<g class="n"><path d="M640,70 C700,110 745,130 745,130 M635,185 L745,130 M635,420 L770,382"/></g>
<!-- side face -->
<polygon class="w" points="350,300 635,185 640,420 635,495 520,560 350,605"/>
<g class="n"><path d="M360,330 L432,322 L632,270 M360,452 L632,392 L765,350 M360,486 L635,424 L770,382 M432,322 L360,300 M520,560 L520,530 L350,580"/>
<ellipse cx="680" cy="342" rx="30" ry="15"/></g>
<!-- top face -->
<polygon class="w" points="40,115 190,75 330,30 350,10 450,5 500,20 560,15 640,70 635,185 500,235 500,265 400,300 350,300 255,280 105,180"/>
<g class="n"><path d="M105,130 L190,110 L210,75 L330,45 L340,20 M190,110 L215,130 L250,120 M330,45 L380,80 L460,60 L480,30 L450,5 M460,60 L480,90 L560,70 L560,15 M480,90 L500,130 M255,200 L400,265 L500,232 L500,170 M400,265 L400,300 M255,200 L255,280 M105,180 L190,150 L255,200 M640,70 L560,90"/>
<ellipse cx="332" cy="108" rx="72" ry="30"/><ellipse cx="410" cy="57" rx="14" ry="16"/><ellipse cx="165" cy="130" rx="11" ry="14"/></g>
<g class="n" style="stroke-width:2.4"><path d="M500,130 L640,88 M510,150 L640,110 M520,170 L640,130"/></g>
<ellipse class="w" cx="370" cy="187" rx="118" ry="57"/>
<ellipse class="n" cx="370" cy="187" rx="104" ry="48" style="stroke-width:1.6"/>
<ellipse class="k" cx="520" cy="35" rx="13" ry="9"/>
<ellipse class="k" cx="575" cy="266" rx="15" ry="10"/><ellipse class="n" cx="575" cy="266" rx="28" ry="20"/>
<!-- end face -->
<polygon class="w" points="40,120 60,100 100,102 105,180 255,280 300,268 350,300 350,650 300,668 255,642 250,592 110,512 60,522 40,492"/>
<polygon class="n" points="50,228 285,362 285,565 55,425"/>
<polygon class="n" points="60,245 275,372 275,545 65,412"/>
<g class="n"><path d="M105,180 L105,250 M255,280 L255,345 M100,102 L100,180 M300,268 L300,668 M40,440 L110,450 L110,512 M250,592 L250,545 M335,295 L335,655"/>
<circle cx="70" cy="180" r="10"/><circle cx="75" cy="482" r="10"/><circle cx="278" cy="318" r="10"/><circle cx="280" cy="625" r="10"/></g>
<ellipse class="k" cx="192" cy="360" rx="9" ry="13"/><ellipse class="k" cx="122" cy="402" rx="9" ry="13"/>
<g class="n" style="stroke-width:1.7"><path d="M51,238 l4,-28 q8,-12 16,0 l4,30"/><ellipse cx="63" cy="230" rx="8" ry="11" style="fill:#555"/><path d="M115,282 l4,-28 q8,-12 16,0 l4,30"/><ellipse cx="127" cy="274" rx="8" ry="11" style="fill:#555"/><path d="M180,322 l4,-28 q8,-12 16,0 l4,30"/><ellipse cx="192" cy="314" rx="8" ry="11" style="fill:#555"/><path d="M251,370 l4,-28 q8,-12 16,0 l4,30"/><ellipse cx="263" cy="362" rx="8" ry="11" style="fill:#555"/><path d="M45,428 l4,-28 q8,-12 16,0 l4,30"/><ellipse cx="57" cy="420" rx="8" ry="11" style="fill:#555"/><path d="M115,468 l4,-28 q8,-12 16,0 l4,30"/><ellipse cx="127" cy="460" rx="8" ry="11" style="fill:#555"/><path d="M185,512 l4,-28 q8,-12 16,0 l4,30"/><ellipse cx="197" cy="504" rx="8" ry="11" style="fill:#555"/><path d="M254,558 l4,-28 q8,-12 16,0 l4,30"/><ellipse cx="266" cy="550" rx="8" ry="11" style="fill:#555"/></g>
</g>

<!-- m3 -->
<!-- M3 -->
<!-- view M3b: region [410,510,570,647] x5 : gearbox -->
<g transform="translate(410,510) scale(0.2)">
<!-- silhouette -->
<polygon class="w" points="5,210 30,180 90,150 100,135 180,115 200,125 340,75 355,60 470,40 520,70 700,180 722,200 728,560 705,610 690,650 640,660 440,690 420,722 360,728 200,728 165,690 100,640 -5,400 -5,218"/>
<g class="n">
<path d="M5,210 L5,240 L120,300 L165,330 M90,150 L130,178 L130,205 L30,250 M130,205 L215,250 L215,130 M100,135 L130,160 L200,140 L215,150 M120,300 L120,270 L215,250 L250,240 L255,300 M165,330 L180,300 L255,300 L255,400 L330,420 L380,360 L380,300 L320,310 L320,380 L265,370 M330,420 L330,385 M340,75 L355,90 L540,215 L410,268 L400,300 L380,300 M215,150 L355,90 M540,215 L540,250 L410,300 M545,250 L545,310 L600,332 L650,300 L650,262 L700,240 L722,200 M600,332 L600,290 L560,275 M470,40 L470,60 L700,200 L560,250 L540,215 M355,60 L370,75 L470,60 M700,200 L700,240 M165,330 L165,690 M700,240 L705,610"/>
<ellipse cx="155" cy="140" rx="12" ry="7"/><ellipse cx="400" cy="70" rx="12" ry="7"/><ellipse cx="580" cy="190" rx="12" ry="7"/><ellipse cx="340" cy="265" rx="12" ry="7"/><ellipse cx="655" cy="270" rx="5" ry="10"/><circle cx="215" cy="665" r="18"/>
<path d="M165,690 L290,640 L360,728 M290,640 L420,640"/>
</g>
<!-- thick ribs -->
<g class="n" style="stroke-width:2.6"><path d="M200,490 L430,430 M210,528 L420,472 M215,576 L400,530"/></g>
<g class="n"><path d="M200,500 L430,440 M210,540 L420,484 M215,588 L400,542"/></g>
<circle class="k" cx="215" cy="335" r="12"/><circle class="n" cx="215" cy="335" r="20"/>
<circle class="k" cx="635" cy="387" r="12"/>
<circle class="k" cx="395" cy="680" r="13"/><circle class="n" cx="395" cy="680" r="22"/><circle class="n" cx="395" cy="680" r="30"/>
<!-- plug -->
<ellipse class="w" cx="455" cy="365" rx="67" ry="68"/>
<ellipse class="n" cx="455" cy="365" rx="55" ry="56"/>
<!-- hex boss -->
<polygon class="w" points="400,520 445,455 560,405 640,425 665,470 665,580 620,650 500,665 420,620"/>
<ellipse class="w" cx="565" cy="522" rx="112" ry="122" transform="rotate(12 565 522)" style="stroke-width:2"/>
<ellipse class="n" cx="565" cy="522" rx="96" ry="106" transform="rotate(12 565 522)"/>
<ellipse class="n" cx="568" cy="524" rx="66" ry="76" transform="rotate(12 568 524)" style="stroke-width:2"/>
<ellipse cx="566" cy="523" rx="81" ry="91" transform="rotate(12 566 523)" style="fill:none;stroke:#222;stroke-width:4.8"/><ellipse cx="566" cy="523" rx="81" ry="91" transform="rotate(12 566 523)" style="fill:none;stroke:#fff;stroke-width:3.5;stroke-dasharray:3.4 1.5"/>
<!-- shaft -->
<path class="w" d="M515,525 C510,480 548,465 575,482 L675,555 L620,640 L530,575 Z"/>
<path class="n" d="M535,500 L625,570"/>
<ellipse class="w" cx="647" cy="600" rx="42" ry="44" style="stroke-width:2"/>
<ellipse class="n" cx="647" cy="600" rx="20" ry="21"/><ellipse class="n" cx="647" cy="600" rx="10" ry="11"/>
</g>
<!-- M3 plane line over gearbox -->
<line class="l" x1="542" y1="594.5" x2="560" y2="589.6"/>
<!-- view M3a: region [300,549,460,686] x5 : motor -->
<g transform="translate(300,549) scale(0.2)">
<!-- round flange -->
<path class="w" d="M540,150 C600,120 700,200 742,360 C760,440 740,500 700,505 L640,520 L560,300 Z"/>
<path class="n" d="M560,150 C640,170 710,280 725,400 C730,450 720,490 700,505 M585,175 C650,210 690,300 700,400 C705,450 695,480 680,500"/>
<!-- motor body -->
<polygon class="w" points="225,250 440,180 455,165 485,150 580,230 640,300 650,505 640,520 480,545 330,590 320,345"/>
<polygon class="n" points="228,252 440,183 558,246 312,320"/>
<g class="n"><path style="stroke-width:1.25" d="M238,260 L452,190 M248,268 L464,197 M258,276 L476,204 M268,284 L488,211 M278,292 L500,218 M288,300 L512,225 M298,308 L524,232 M308,316 L536,239"/>
<path d="M312,320 L322,360 L560,290 L600,280 M330,345 L570,270 M455,165 L560,246 L600,280 L640,300 M485,150 L580,230 M380,335 l0,-20 q8,-10 16,0 l0,16 M480,305 l0,-20 q8,-10 16,0 l0,16"/>
<!-- side fins -->
<path style="stroke-width:1.45" d="M335,400 L450,375 M335,414 L450,389 M335,428 L450,403 M335,442 L450,417 M335,456 L450,431 M335,470 L450,445 M335,484 L450,459 M335,498 L450,473 M335,512 L450,487 M335,526 L450,501 M335,540 L450,515 M335,407 L450,382 M335,435 L450,410 M335,463 L450,438 M335,491 L450,466 M335,519 L450,494 M450,370 L450,530 M330,560 L470,530"/>
</g>
<!-- terminal box -->
<polygon class="w" points="455,360 470,385 620,350 640,372 640,500 480,542 460,520"/>
<polyline class="n" points="470,385 480,542"/><polyline class="n" points="520,375 528,530"/>
<polyline class="n" points="455,360 610,322 640,372"/>
<ellipse class="n" cx="510" cy="346" rx="17" ry="11" style="stroke-width:1.5"/><ellipse class="n" cx="565" cy="332" rx="17" ry="11" style="stroke-width:1.5"/>
<!-- fan cover -->
<polygon class="w" points="105,278 140,245 195,240 322,345 330,590 272,626 240,620 230,340"/>
<polyline class="n" points="195,240 205,265 300,350 322,345"/><line class="n" x1="300" y1="350" x2="305" y2="605"/>
<!-- end cap -->
<path class="w" d="M145,300 C195,295 262,350 269,450 C272,540 250,605 225,620 L125,612 Z"/>
<ellipse class="w" cx="134" cy="456" rx="81" ry="156" transform="rotate(4 134 456)"/>
<ellipse class="k" cx="131" cy="457" rx="7" ry="10"/>
</g>

<!-- labels -->
<text x="491.5" y="247.7">M1</text>
<text x="760" y="269.7">M2</text>
<text x="582.5" y="630.6">M3</text>
<text x="167.5" y="422.7">M4</text>
<text x="512.5" y="339.7">M5</text>
<text x="12" y="278.7">M6</text>


</g>
</svg>
</body></html>
